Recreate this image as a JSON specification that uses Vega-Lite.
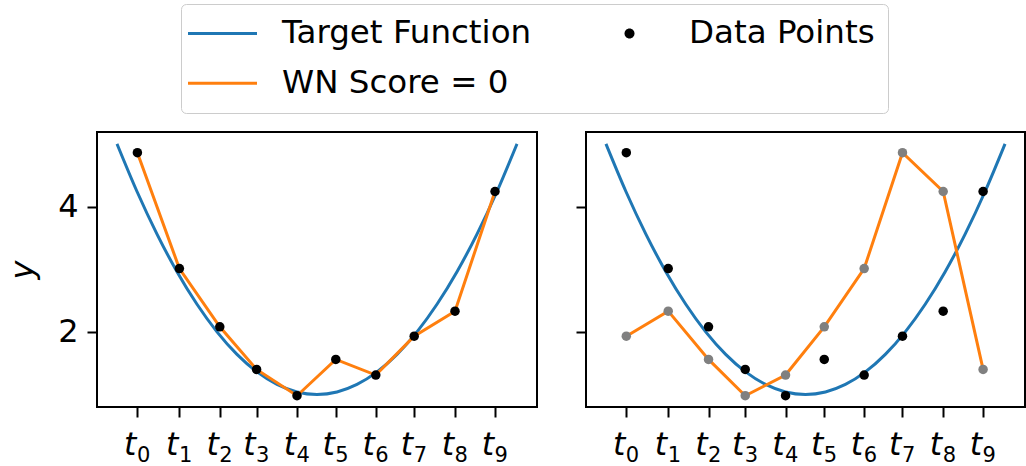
{
  "$schema": "https://vega.github.io/schema/vega-lite/v6.json",
  "background": "white",
  "padding": {"left": 5, "top": 3, "right": 3, "bottom": 0},
  "datasets": {
    "curve": [
      {"x": 0.0, "y": 5.0}, {"x": 0.05, "y": 4.24}, {"x": 0.1, "y": 3.56}, {"x": 0.15, "y": 2.96},
      {"x": 0.2, "y": 2.44}, {"x": 0.25, "y": 2.0}, {"x": 0.3, "y": 1.64}, {"x": 0.35, "y": 1.36},
      {"x": 0.4, "y": 1.16}, {"x": 0.45, "y": 1.04}, {"x": 0.5, "y": 1.0}, {"x": 0.55, "y": 1.04},
      {"x": 0.6, "y": 1.16}, {"x": 0.65, "y": 1.36}, {"x": 0.7, "y": 1.64}, {"x": 0.75, "y": 2.0},
      {"x": 0.8, "y": 2.44}, {"x": 0.85, "y": 2.96}, {"x": 0.9, "y": 3.56}, {"x": 0.95, "y": 4.24},
      {"x": 1.0, "y": 5.0}
    ],
    "pts": [
      {"i": 0, "x": 0.051, "y": 4.86, "yPerm": 1.93},
      {"i": 1, "x": 0.156, "y": 3.01, "yPerm": 2.33},
      {"i": 2, "x": 0.257, "y": 2.08, "yPerm": 1.56},
      {"i": 3, "x": 0.349, "y": 1.40, "yPerm": 0.98},
      {"i": 4, "x": 0.45, "y": 0.98, "yPerm": 1.31},
      {"i": 5, "x": 0.547, "y": 1.56, "yPerm": 2.08},
      {"i": 6, "x": 0.647, "y": 1.31, "yPerm": 3.01},
      {"i": 7, "x": 0.743, "y": 1.93, "yPerm": 4.86},
      {"i": 8, "x": 0.845, "y": 2.33, "yPerm": 4.24},
      {"i": 9, "x": 0.945, "y": 4.24, "yPerm": 1.40}
    ]
  },
  "spacing": 36,
  "resolve": {"scale": {"color": "shared"}},
  "hconcat": [
    {
      "width": 440,
      "height": 275,
      "encoding": {
        "x": {
          "field": "x", "type": "quantitative",
          "scale": {"domain": [-0.05, 1.05], "nice": false, "zero": false},
          "axis": {
            "values": [0.051, 0.156, 0.257, 0.349, 0.45, 0.547, 0.647, 0.743, 0.845, 0.945],
            "labels": false,
            "title": null
          }
        },
        "y": {
          "field": "y", "type": "quantitative",
          "scale": {"domain": [0.8, 5.19], "nice": false, "zero": false},
          "axis": {"values": [2, 4], "title": "y", "titleFontStyle": "italic", "labelPadding": 9, "titlePadding": 18}
        }
      },
      "layer": [
        {
          "data": {"name": "curve"},
          "mark": {"type": "line", "strokeWidth": 3, "interpolate": "monotone"},
          "encoding": {
            "color": {
              "datum": "Target Function", "type": "nominal",
              "scale": {"domain": ["Target Function", "WN Score = 0", "Data Points"], "range": ["#1f77b4", "#ff7f0e", "#000000"]},
              "legend": {
                "orient": "none", "legendX": 84, "legendY": -128,
                "title": null, "columns": 2,
                "labelOffset": 55.5, "columnPadding": 69, "rowPadding": 17,
                "padding": 13, "strokeColor": "#cccccc", "fillColor": "white", "cornerRadius": 5,
                "labelFont": "DejaVu Sans", "labelFontSize": 32.5, "labelColor": "black", "labelLimit": 0,
                "encode": {
                  "symbols": {
                    "update": {
                      "shape": {"signal": "datum.value === 'Data Points' ? 'M1.45,0A1,1 0 1,1 3.45,0A1,1 0 1,1 1.45,0Z' : 'M-0.89,0H1.87'"},
                      "size": {"signal": "datum.value === 'Data Points' ? 100 : 2500"},
                      "strokeWidth": {"signal": "datum.value === 'Data Points' ? 0 : 3"},
                      "fill": {"signal": "datum.value === 'Data Points' ? 'black' : 'transparent'"},
                      "stroke": {"signal": "datum.value === 'Data Points' ? 'black' : (datum.value === 'Target Function' ? '#1f77b4' : '#ff7f0e')"},
                      "opacity": {"value": 1}
                    }
                  }
                }
              }
            }
          }
        },
        {
          "data": {"name": "pts"},
          "mark": {"type": "line", "strokeWidth": 3},
          "encoding": {"color": {"datum": "WN Score = 0", "type": "nominal"}}
        },
        {
          "data": {"name": "pts"},
          "mark": {"type": "point", "filled": true, "size": 90, "opacity": 1},
          "encoding": {"color": {"datum": "Data Points", "type": "nominal"}}
        },
        {
          "data": {"name": "pts"},
          "mark": {"type": "text", "text": "t", "font": "DejaVu Sans", "fontStyle": "italic", "fontSize": 31.5, "align": "right", "baseline": "alphabetic", "dx": -1, "dy": 48, "color": "black"},
          "encoding": {"y": {"datum": 0.8, "type": "quantitative"}}
        },
        {
          "data": {"name": "pts"},
          "mark": {"type": "text", "font": "DejaVu Sans", "fontSize": 21, "align": "left", "baseline": "alphabetic", "dx": -0.5, "dy": 55, "color": "black"},
          "encoding": {"y": {"datum": 0.8, "type": "quantitative"}, "text": {"field": "i", "type": "nominal"}}
        }
      ]
    },
    {
      "width": 439,
      "height": 275,
      "encoding": {
        "x": {
          "field": "x", "type": "quantitative",
          "scale": {"domain": [-0.05, 1.05], "nice": false, "zero": false},
          "axis": {
            "values": [0.051, 0.156, 0.257, 0.349, 0.45, 0.547, 0.647, 0.743, 0.845, 0.945],
            "labels": false,
            "title": null
          }
        },
        "y": {
          "field": "y", "type": "quantitative",
          "scale": {"domain": [0.8, 5.19], "nice": false, "zero": false},
          "axis": {"values": [2, 4], "labels": false, "title": null}
        }
      },
      "layer": [
        {
          "data": {"name": "curve"},
          "mark": {"type": "line", "strokeWidth": 3, "interpolate": "monotone"},
          "encoding": {"color": {"datum": "Target Function", "type": "nominal"}}
        },
        {
          "data": {"name": "pts"},
          "mark": {"type": "line", "strokeWidth": 3},
          "encoding": {
            "y": {"field": "yPerm", "type": "quantitative"},
            "color": {"datum": "WN Score = 0", "type": "nominal"}
          }
        },
        {
          "data": {"name": "pts"},
          "mark": {"type": "point", "filled": true, "size": 90, "opacity": 1, "color": "#808080"},
          "encoding": {"y": {"field": "yPerm", "type": "quantitative"}}
        },
        {
          "data": {"name": "pts"},
          "mark": {"type": "point", "filled": true, "size": 90, "opacity": 1},
          "encoding": {"color": {"datum": "Data Points", "type": "nominal"}}
        },
        {
          "data": {"name": "pts"},
          "mark": {"type": "text", "text": "t", "font": "DejaVu Sans", "fontStyle": "italic", "fontSize": 31.5, "align": "right", "baseline": "alphabetic", "dx": -1, "dy": 48, "color": "black"},
          "encoding": {"y": {"datum": 0.8, "type": "quantitative"}}
        },
        {
          "data": {"name": "pts"},
          "mark": {"type": "text", "font": "DejaVu Sans", "fontSize": 21, "align": "left", "baseline": "alphabetic", "dx": -0.5, "dy": 55, "color": "black"},
          "encoding": {"y": {"datum": 0.8, "type": "quantitative"}, "text": {"field": "i", "type": "nominal"}}
        }
      ]
    }
  ],
  "config": {
    "view": {"stroke": "black", "strokeWidth": 2},
    "font": "DejaVu Sans",
    "axis": {
      "domain": false, "grid": false,
      "tickColor": "black", "tickWidth": 2, "tickSize": 10,
      "labelFont": "DejaVu Sans", "labelFontSize": 32, "labelColor": "black",
      "titleFont": "DejaVu Sans", "titleFontSize": 32, "titleColor": "black", "titleFontWeight": "normal"
    }
  }
}
